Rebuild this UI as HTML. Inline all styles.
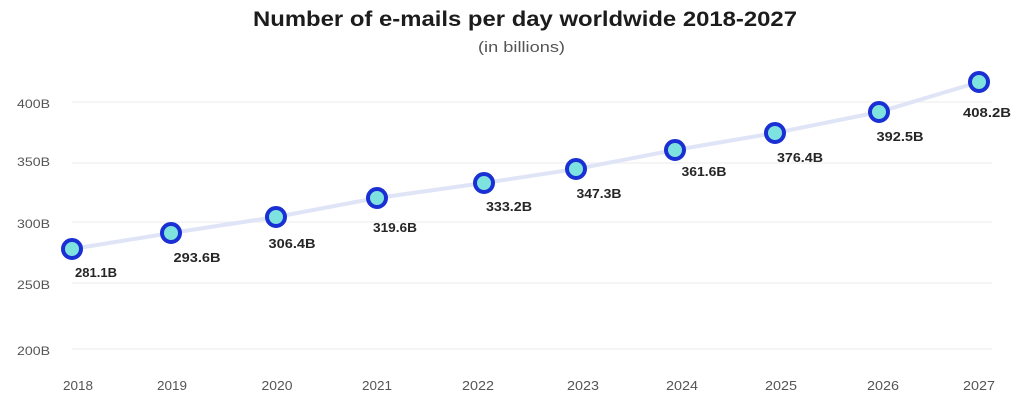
<!DOCTYPE html>
<html>
<head>
<meta charset="utf-8">
<style>
  html, body { margin: 0; padding: 0; background: #ffffff; }
  body { width: 1024px; height: 408px; overflow: hidden; }
  svg { display: block; }
  text { font-family: "Liberation Sans", "DejaVu Sans", sans-serif; }
</style>
</head>
<body>
<svg width="1024" height="408" viewBox="0 0 1024 408" xmlns="http://www.w3.org/2000/svg">
  <rect width="1024" height="408" fill="#ffffff"/>

  <!-- Title -->
  <text x="253" y="26" font-size="21" font-weight="bold" fill="#1c1c1c" textLength="544" lengthAdjust="spacingAndGlyphs">Number of e-mails per day worldwide 2018-2027</text>
  <text x="478" y="52" font-size="15" fill="#555555" textLength="87" lengthAdjust="spacingAndGlyphs">(in billions)</text>

  <!-- Gridlines -->
  <g stroke="#f2f2f4" stroke-width="1.5">
    <line x1="72" y1="102" x2="992" y2="102"/>
    <line x1="72" y1="163" x2="992" y2="163"/>
    <line x1="72" y1="222" x2="992" y2="222"/>
    <line x1="72" y1="283" x2="992" y2="283"/>
    <line x1="72" y1="349" x2="992" y2="349"/>
  </g>

  <!-- Y axis labels -->
  <g font-size="12" fill="#555555">
    <text x="17" y="108" textLength="33" lengthAdjust="spacingAndGlyphs">400B</text>
    <text x="17" y="166" textLength="33" lengthAdjust="spacingAndGlyphs">350B</text>
    <text x="17" y="228" textLength="33" lengthAdjust="spacingAndGlyphs">300B</text>
    <text x="17" y="289" textLength="33" lengthAdjust="spacingAndGlyphs">250B</text>
    <text x="17" y="355" textLength="33" lengthAdjust="spacingAndGlyphs">200B</text>
  </g>

  <!-- X axis labels -->
  <g font-size="13" fill="#555555" text-anchor="middle">
    <text x="78" y="390" textLength="30" lengthAdjust="spacingAndGlyphs">2018</text>
    <text x="172" y="390" textLength="30" lengthAdjust="spacingAndGlyphs">2019</text>
    <text x="277" y="390" textLength="31" lengthAdjust="spacingAndGlyphs">2020</text>
    <text x="377" y="390" textLength="30" lengthAdjust="spacingAndGlyphs">2021</text>
    <text x="478" y="390" textLength="32" lengthAdjust="spacingAndGlyphs">2022</text>
    <text x="583" y="390" textLength="32" lengthAdjust="spacingAndGlyphs">2023</text>
    <text x="682" y="390" textLength="32" lengthAdjust="spacingAndGlyphs">2024</text>
    <text x="781" y="390" textLength="32" lengthAdjust="spacingAndGlyphs">2025</text>
    <text x="883" y="390" textLength="32" lengthAdjust="spacingAndGlyphs">2026</text>
    <text x="979" y="390" textLength="32" lengthAdjust="spacingAndGlyphs">2027</text>
  </g>

  <!-- Series line -->
  <polyline fill="none" stroke="#e0e4f7" stroke-width="4" stroke-linejoin="round" stroke-linecap="round"
    points="72,249 171,233 276,217 377,198 484,183 576,169 675,150 775,133 879,112 979,82"/>

  <!-- Markers -->
  <g fill="#7ee3de" stroke="#1a30d4" stroke-width="4">
    <circle cx="72" cy="249" r="9"/>
    <circle cx="171" cy="233" r="9"/>
    <circle cx="276" cy="217" r="9"/>
    <circle cx="377" cy="198" r="9"/>
    <circle cx="484" cy="183" r="9"/>
    <circle cx="576" cy="169" r="9"/>
    <circle cx="675" cy="150" r="9"/>
    <circle cx="775" cy="133" r="9"/>
    <circle cx="879" cy="112" r="9"/>
    <circle cx="979" cy="82" r="9"/>
  </g>

  <!-- Data labels -->
  <g font-size="12.5" font-weight="bold" fill="#262626" text-anchor="middle">
    <text x="96" y="277" textLength="42" lengthAdjust="spacingAndGlyphs">281.1B</text>
    <text x="197" y="262" textLength="47" lengthAdjust="spacingAndGlyphs">293.6B</text>
    <text x="292" y="248" textLength="47" lengthAdjust="spacingAndGlyphs">306.4B</text>
    <text x="395" y="232" textLength="44" lengthAdjust="spacingAndGlyphs">319.6B</text>
    <text x="509" y="211" textLength="46" lengthAdjust="spacingAndGlyphs">333.2B</text>
    <text x="599" y="198" textLength="45" lengthAdjust="spacingAndGlyphs">347.3B</text>
    <text x="704" y="176" textLength="45" lengthAdjust="spacingAndGlyphs">361.6B</text>
    <text x="800" y="162" textLength="46" lengthAdjust="spacingAndGlyphs">376.4B</text>
    <text x="900" y="141" textLength="47" lengthAdjust="spacingAndGlyphs">392.5B</text>
    <text x="987" y="117" textLength="48" lengthAdjust="spacingAndGlyphs">408.2B</text>
  </g>
</svg>
</body>
</html>
